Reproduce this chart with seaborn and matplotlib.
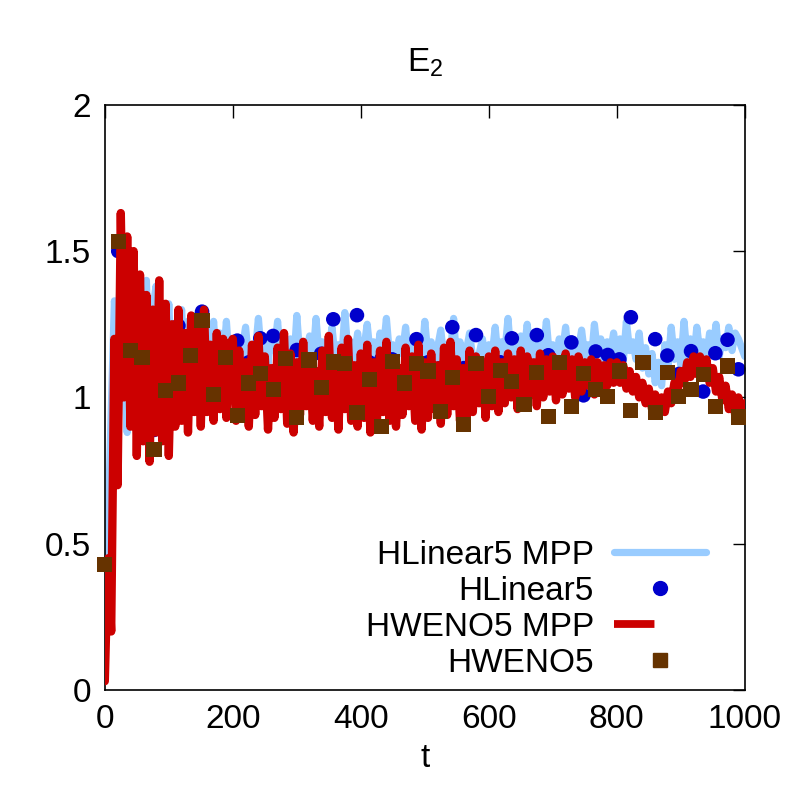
import numpy as np
import pandas as pd
import seaborn as sns
import matplotlib.pyplot as plt
from matplotlib.lines import Line2D

# tiempos de muestreo de las lineas (cada 5)
t_lines = list(range(0, 1001, 5))

# HLinear5 MPP (linea azul claro)
hlin_mpp = [
    # 0-195
    0.15, 0.55, 0.95, 1.33, 1.20, 1.45, 1.10, 0.88, 1.50, 1.15,
    0.95, 1.30, 1.05, 1.40, 1.00, 1.30, 1.38, 1.05, 1.30, 1.10,
    1.32, 1.05, 1.25, 1.12, 1.30, 1.08, 1.26, 1.10, 1.28, 1.12,
    1.25, 1.10, 1.24, 1.12, 1.26, 1.10, 1.22, 1.12, 1.26, 1.10,
    # 200-395
    1.14, 1.20, 1.10, 1.17, 1.24, 1.12, 1.18, 1.15, 1.27, 1.13,
    1.19, 1.11, 1.22, 1.16, 1.26, 1.12, 1.18, 1.14, 1.20, 1.10,
    1.28, 1.13, 1.17, 1.15, 1.21, 1.12, 1.27, 1.14, 1.19, 1.11,
    1.16, 1.24, 1.13, 1.18, 1.12, 1.29, 1.15, 1.19, 1.13, 1.22,
    # 400-595
    1.12, 1.17, 1.25, 1.14, 1.19, 1.12, 1.22, 1.16, 1.27, 1.14,
    1.18, 1.12, 1.20, 1.15, 1.24, 1.13, 1.18, 1.16, 1.21, 1.12,
    1.26, 1.14, 1.19, 1.11, 1.17, 1.23, 1.13, 1.18, 1.15, 1.27,
    1.12, 1.19, 1.10, 1.16, 1.22, 1.13, 1.05, 1.15, 1.20, 1.12,
    # 600-795
    1.18, 1.14, 1.24, 1.12, 1.19, 1.15, 1.27, 1.13, 1.17, 1.10,
    1.21, 1.15, 1.25, 1.14, 1.19, 1.12, 1.22, 1.16, 1.26, 1.13,
    1.18, 1.11, 1.20, 1.15, 1.24, 1.13, 1.19, 1.10, 1.16, 1.23,
    1.14, 1.18, 1.12, 1.25, 1.15, 1.20, 1.13, 1.19, 1.15, 1.22,
    # 800-1000
    1.14, 1.20, 1.12, 1.26, 1.16, 1.19, 1.13, 1.22, 1.10, 1.17,
    1.08, 1.15, 1.05, 1.12, 1.04, 1.18, 1.10, 1.24, 1.13, 1.19,
    1.11, 1.26, 1.14, 1.20, 1.12, 1.24, 1.15, 1.19, 1.13, 1.22,
    1.16, 1.25, 1.14, 1.20, 1.17, 1.24, 1.16, 1.22, 1.20, 1.17,
    1.14,
]

# HWENO5 MPP (linea roja)
hweno_mpp = [
    # 0-195
    0.03, 0.45, 0.20, 1.20, 0.70, 1.63, 1.00, 1.55, 0.90, 1.50,
    0.80, 1.42, 0.85, 1.35, 0.78, 1.30, 0.88, 1.40, 0.85, 1.32,
    0.80, 1.25, 0.90, 1.30, 0.92, 1.22, 0.88, 1.28, 0.95, 1.25,
    0.90, 1.30, 0.95, 1.18, 0.92, 1.22, 0.96, 1.20, 0.93, 1.18,
    # 200-395
    1.20, 0.92, 1.16, 0.95, 1.12, 0.90, 1.18, 0.94, 1.21, 0.97,
    1.14, 0.89, 1.10, 0.93, 1.17, 0.96, 1.22, 0.91, 1.15, 0.88,
    1.12, 0.94, 1.19, 0.97, 1.14, 0.92, 1.09, 0.90, 1.16, 0.95,
    1.21, 0.93, 1.13, 0.89, 1.17, 0.96, 1.20, 0.92, 1.11, 0.90,
    # 400-595
    1.15, 0.93, 1.18, 0.88, 1.12, 0.91, 1.16, 0.95, 1.19, 0.92,
    1.13, 0.90, 1.10, 0.94, 1.17, 0.97, 1.14, 0.92, 1.18, 0.89,
    1.12, 0.93, 1.15, 0.96, 1.11, 0.91, 1.17, 0.94, 1.19, 0.97,
    1.13, 0.92, 1.10, 0.90, 1.16, 0.95, 1.14, 0.98, 1.12, 0.93,
    # 600-795
    1.14, 0.97, 1.16, 0.95, 1.12, 0.98, 1.15, 1.00, 1.13, 0.96,
    1.16, 0.99, 1.14, 1.01, 1.12, 0.97, 1.15, 1.00, 1.13, 1.02,
    1.14, 0.99, 1.12, 1.01, 1.15, 1.03, 1.13, 1.00, 1.14, 1.02,
    1.12, 1.04, 1.13, 1.01, 1.12, 1.03, 1.11, 1.04, 1.12, 1.05,
    # 800-1000
    1.12, 1.05, 1.11, 1.03, 1.09, 1.02, 1.07, 1.00, 1.05, 0.98,
    1.03, 0.96, 1.01, 0.94, 1.00, 0.95, 1.02, 0.98, 1.05, 1.02,
    1.09, 1.05, 1.12, 1.07, 1.14, 1.08, 1.14, 1.07, 1.13, 1.05,
    1.10, 1.02, 1.07, 0.99, 1.04, 0.96, 1.01, 0.94, 1.00, 0.95,
    0.98,
]

# puntos (HLinear5 y HWENO5)
t_pts = [0, 21, 40, 58, 77, 95, 115, 134, 152, 170, 189, 207, 225, 243,
         263, 282, 300, 319, 338, 357, 375, 394, 413, 432, 449, 468, 487,
         505, 524, 543, 561, 580, 599, 618, 636, 655, 675, 693, 711, 729,
         748, 767, 786, 804, 822, 841, 860, 879, 897, 916, 935, 954, 973, 990]

hlin = [0.43, 1.50, 1.185, 1.10, 0.889, 1.06, 1.245, 1.19, 1.293, 1.12,
        1.10, 1.194, 1.12, 1.202, 1.210, 1.031, 1.162, 1.12, 1.149, 1.267,
        1.15, 1.281, 1.12, 1.13, 1.13, 0.991, 1.199, 1.12, 1.10, 1.240,
        1.10, 1.213, 1.099, 1.12, 1.202, 1.10, 1.213, 1.144, 1.12, 1.188,
        1.007, 1.157, 1.145, 1.13, 1.274, 1.12, 1.199, 1.143, 1.08, 1.158,
        1.020, 1.151, 1.197, 1.096]

hweno = [0.43, 1.533, 1.160, 1.137, 0.823, 1.023, 1.049, 1.142, 1.262, 1.011,
         1.137, 0.939, 1.049, 1.083, 1.028, 1.134, 0.932, 1.128, 1.035, 1.121,
         1.117, 0.949, 1.062, 0.901, 1.124, 1.049, 1.117, 1.090, 0.952, 1.069,
         0.908, 1.117, 1.004, 1.093, 1.055, 0.977, 1.086, 0.936, 1.120, 0.970,
         1.083, 1.026, 1.002, 1.090, 0.954, 1.120, 0.949, 1.086, 1.004, 1.028,
         1.079, 0.968, 1.107, 0.933]

labels = ["HLinear5 MPP", "HLinear5", "HWENO5 MPP", "HWENO5"]
y_ticks = [0, 0.5, 1, 1.5, 2]
y_ticklabels = ["0", "0.5", "1", "1.5", "2"]
x_ticks = [0, 200, 400, 600, 800, 1000]

c_lb = "#99ccff"
c_blue = "#0000cc"
c_red = "#cc0000"
c_brown = "#663300"

sns.set_style("white")
plt.rcParams["font.family"] = ["Liberation Sans", "DejaVu Sans"]
plt.rcParams["mathtext.fontset"] = "custom"
plt.rcParams["mathtext.rm"] = "Liberation Sans"
for k in ["text.color", "axes.labelcolor", "xtick.color", "ytick.color"]:
    plt.rcParams[k] = "black"

df_lines = pd.DataFrame({"t": t_lines, "hlin_mpp": hlin_mpp, "hweno_mpp": hweno_mpp})
df_pts = pd.DataFrame({"t": t_pts, "hlin": hlin, "hweno": hweno})

fig = plt.figure(figsize=(8, 8), dpi=100)
ax = fig.add_axes([0.131, 0.1375, 0.8, 0.7315])

sns.lineplot(data=df_lines, x="t", y="hlin_mpp", color=c_lb, lw=5.2, ax=ax, zorder=1)
sns.scatterplot(data=df_pts, x="t", y="hlin", color=c_blue, marker="o", s=110,
                edgecolor="none", ax=ax, zorder=2, clip_on=False)
sns.lineplot(data=df_lines, x="t", y="hweno_mpp", color=c_red, lw=6.0, ax=ax, zorder=3)
sns.scatterplot(data=df_pts, x="t", y="hweno", color=c_brown, marker="s", s=120,
                edgecolor="none", ax=ax, zorder=4, clip_on=False)

ax.set_xlim(0, 1000)
ax.set_ylim(0, 2)
ax.set_xticks(x_ticks)
ax.set_yticks(y_ticks)
ax.set_yticklabels(y_ticklabels)
ax.tick_params(direction="in", top=True, right=True, length=9, width=1,
               labelsize=24, pad=10)
for s in ax.spines.values():
    s.set_color("black")
    s.set_linewidth(1.2)

ax.set_xlabel("t", fontsize=24, labelpad=6)
ax.set_ylabel("")
ax.set_title("E$_2$", fontsize=24, pad=24)

handles = [
    Line2D([], [], color=c_lb, lw=5.2),
    Line2D([], [], color=c_blue, marker="o", ls="none", markersize=10),
    Line2D([], [], color=c_red, lw=5.6, dashes=(5.2, 9)),
    Line2D([], [], color=c_brown, marker="s", ls="none", markersize=10.5),
]
ax.legend(handles, labels, loc="lower right", bbox_to_anchor=(0.965, -0.009),
          frameon=False, fontsize=24, markerfirst=False, handlelength=2.75,
          handletextpad=0.6, labelspacing=0.15, borderpad=0)

fig.savefig("out.png", dpi=100)
